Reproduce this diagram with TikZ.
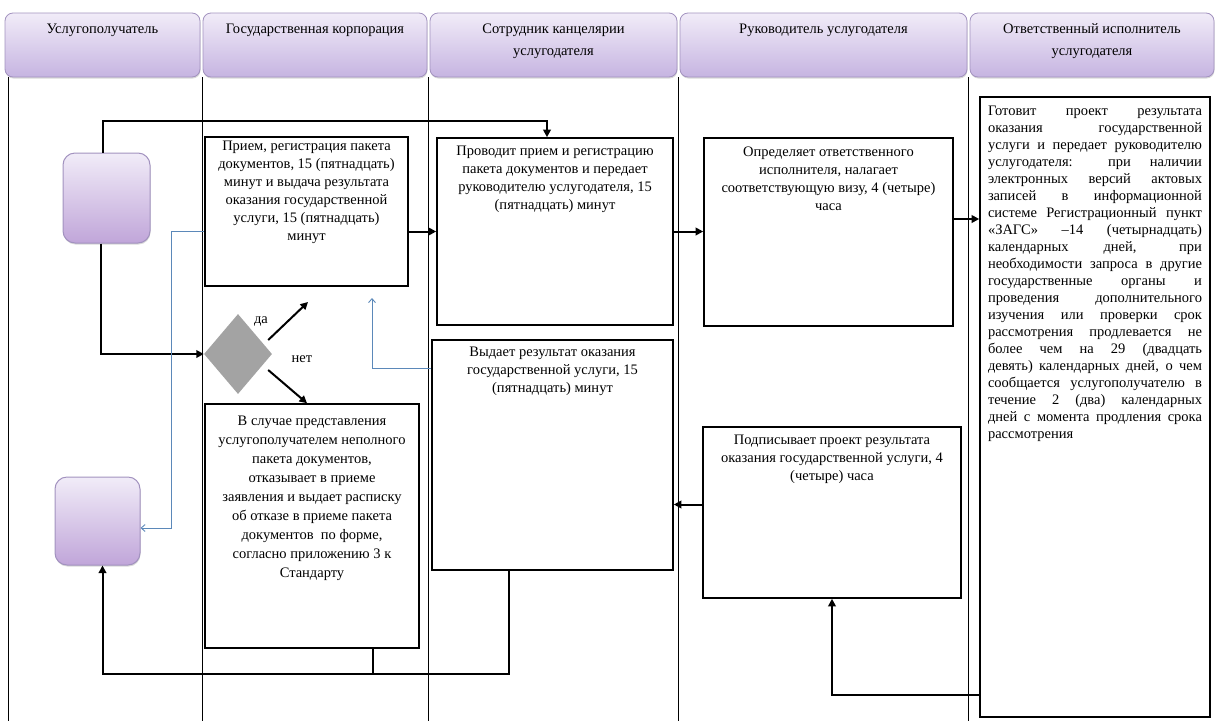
\documentclass[tikz,border=0pt]{standalone}
\usepackage{fontspec}
\setmainfont{Liberation Serif}
\usetikzlibrary{positioning, shapes.geometric, arrows.meta, shadows}

\definecolor{headtop}{HTML}{F1ECF8}
\definecolor{headbot}{HTML}{C6B4E1}
\definecolor{headline}{HTML}{A292BF}
\definecolor{linkblue}{HTML}{5B88B9}
\definecolor{decgray}{HTML}{A3A3A3}

\tikzset{
  lanehead/.style={draw=headline, line width=0.8pt, rounded corners=8pt, top color=headtop, bottom color=headbot, minimum height=64pt, inner sep=0pt,
    drop shadow={shadow xshift=0.5pt, shadow yshift=-1.5pt, opacity=0.3}},
  endpoint/.style={draw=headline, line width=1pt, rounded corners=12pt, top color=headtop, bottom color=headbot!92!violet,
    drop shadow={shadow xshift=0.5pt, shadow yshift=-1.5pt, opacity=0.3}},
  stepbox/.style={draw, line width=1.6pt, inner sep=0pt},
  toptext/.style={anchor=north, align=center, inner sep=5pt, yshift=-4pt},
  headtext/.style={anchor=north, align=center, inner sep=0pt, yshift=-11pt, font=\fontsize{14.5}{22}\selectfont},
  flow/.style={line width=2pt, -{Triangle[length=7.5pt,width=7.5pt]}},
  back/.style={draw=linkblue, line width=0.9pt, -{Straight Barb[length=4pt,width=7pt]}},
}

\begin{document}
\begin{tikzpicture}[x=1pt, y=-1pt, font=\fontsize{14.5}{18}\selectfont]
\useasboundingbox (0,0) rectangle (1216,721);

\foreach \x in {8,202,428,678,968}
  \draw[line width=0.8pt] (\x,77) -- (\x,721);

\node[lanehead, minimum width=195pt, label={[headtext]north:Услугополучатель}] (h1) at (102.5,45) {};
\node[lanehead, minimum width=224pt, label={[headtext]north:Государственная корпорация}] (h2) at (315,45) {};
\node[lanehead, minimum width=247pt, label={[headtext]north:Сотрудник канцелярии\\услугодателя}] (h3) at (553.5,45) {};
\node[lanehead, minimum width=287pt, label={[headtext]north:Руководитель услугодателя}] (h4) at (823.5,45) {};
\node[lanehead, minimum width=244pt, label={[headtext]north:Ответственный исполнитель\\услугодателя}] (h5) at (1092,45) {};

\node[endpoint, minimum width=87pt, minimum height=90pt] (start) at (106.5,198) {};
\node[endpoint, minimum width=85pt, minimum height=88pt] (end) at (97.5,521) {};
\node[diamond, fill=decgray, minimum width=68pt, minimum height=80pt, inner sep=0pt] (dia) at (238,354) {};

\node[stepbox, minimum width=203pt, minimum height=149pt,
  label={[toptext, yshift=4pt]north:{Прием, регистрация пакета\\документов, 15 (пятнадцать)\\минут и выдача результата\\оказания государственной\\услуги, 15 (пятнадцать)\\минут}}] (recv) at (306.5,211.5) {};
\node[stepbox, minimum width=214pt, minimum height=244pt,
  label={[toptext, yshift=-4pt, font=\fontsize{14.5}{19}\selectfont]north:{В случае представления\\услугополучателем неполного\\пакета документов,\\отказывает в приеме\\заявления и выдает расписку\\об отказе в приеме пакета\\документов~ по форме,\\согласно приложению 3 к\\Стандарту}}] (refuse) at (312,526) {};
\node[stepbox, minimum width=236pt, minimum height=187pt,
  label={[toptext]north:{Проводит прием и регистрацию\\пакета документов и передает\\руководителю услугодателя, 15\\(пятнадцать) минут}}] (reg) at (555,231.5) {};
\node[stepbox, minimum width=249pt, minimum height=188pt,
  label={[toptext]north:{Определяет ответственного\\исполнителя, налагает\\соответствующую визу, 4 (четыре)\\часа}}] (assign) at (828.5,232) {};
\node[stepbox, minimum width=241pt, minimum height=230pt,
  label={[toptext, yshift=1pt]north:{Выдает результат оказания\\государственной услуги, 15\\(пятнадцать) минут}}] (issue) at (552.5,455) {};
\node[stepbox, minimum width=258pt, minimum height=171pt,
  label={[toptext]north:{Подписывает проект результата\\оказания государственной услуги, 4\\(четыре) часа}}] (sign) at (832,512.5) {};
\node[stepbox, minimum width=230pt, minimum height=620pt,
  label={[anchor=north, inner sep=5pt, yshift=-5pt, text width=214pt, align=justify, font=\fontsize{14.5}{17}\selectfont]north:{Готовит проект результата\linebreak
  оказания государственной\linebreak
  услуги и передает руководителю\linebreak
  услугодателя: при наличии\linebreak
  электронных версий актовых\linebreak
  записей в информационной\linebreak
  системе Регистрационный пункт\linebreak
  «ЗАГС» –14 (четырнадцать)\linebreak
  календарных дней, при\linebreak
  необходимости запроса в другие\linebreak
  государственные органы и\linebreak
  проведения дополнительного\linebreak
  изучения или проверки срок\linebreak
  рассмотрения продлевается не\linebreak
  более чем на 29 (двадцать\linebreak
  девять) календарных дней, о чем\linebreak
  сообщается услугополучателю в\linebreak
  течение 2 (два) календарных\linebreak
  дней с момента продления срока\linebreak
  рассмотрения}}] (prep) at (1095,407) {};

\node (yeslbl) at (261,321) {да};
\node (nolbl) at (302,359) {нет};

\coordinate (yes) at (308,302);
\coordinate (retpoint) at (372,298);
\coordinate (toprep) at ([yshift=13pt]assign.east);
\coordinate (fromsign) at ([yshift=8pt]sign.west);
\coordinate (fromprep) at ([yshift=-288pt]prep.west);
\coordinate (fromissue) at ([xshift=-44pt]issue.south);

\draw[flow] ([xshift=-4pt]start.north) -- ++(0,-32) -| ([xshift=-8pt]reg.north);
\draw[flow] ([xshift=-6pt]start.south) |- (dia.west);
\draw[flow] ([shift={(-4pt,14pt)}]dia.east) -- (yes);
\draw[flow] ([shift={(-4pt,-16pt)}]dia.east) -- ([xshift=-5pt]refuse.north);
\draw[flow] (recv.east |- reg.west) -- (reg.west);
\draw[flow] (reg.east) -- (reg.east -| assign.west);
\draw[flow] (toprep) -- (toprep -| prep.west);
\draw[flow] (fromprep) -| (sign.south);
\draw[flow] (fromsign) -- (fromsign -| issue.east);
\draw[flow] (fromissue) -- ++(0,103) -| ([xshift=5pt]end.south);
\draw[line width=2pt] ([xshift=61pt]refuse.south) -- ++(0,25);

\draw[back] ([yshift=-20pt]recv.west) -- ++(-33,0) |- ([yshift=-7pt]end.east);
\draw[back] ([yshift=-29pt]issue.north west) -| (retpoint);

\end{tikzpicture}
\end{document}
